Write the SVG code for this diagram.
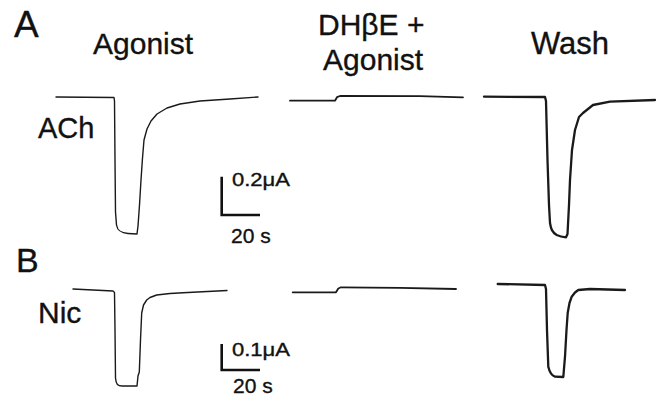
<svg xmlns="http://www.w3.org/2000/svg" width="663" height="399" viewBox="0 0 663 399">
<style>
text{font-family:"Liberation Sans",Arial,sans-serif;fill:#111;stroke:#111;stroke-width:0.35}
.tr{fill:none;stroke:#1a1a1a;stroke-linejoin:round;stroke-linecap:round}
.thin{stroke-width:1.4}
.mid{stroke-width:1.8}
.thick{stroke-width:2.3}
.bar{fill:none;stroke:#111;stroke-width:2.6}
</style>
<rect width="663" height="399" fill="#fff"/>
<g id="headers">
<text x="14" y="37.3" font-size="37">A</text>
<text x="93" y="53.5" font-size="30">Agonist</text>
<text x="318" y="35" font-size="30">DHβE +</text>
<text x="323" y="70" font-size="30">Agonist</text>
<text x="531" y="53.5" font-size="31">Wash</text>
</g>
<g id="panel-A">
<text x="38" y="138" font-size="29">ACh</text>
<path class="tr thin" d="M56,97 L114,97.5 L114.5,101 L115,160 L115.5,212 L116.5,225 C117.5,231 121,233 128,233.5 L137,234 L138,226 L139.5,205 L141,180 L142.5,158 L144,140 L147,129 L151,121 L157,114 L167,108 L180,104 L200,101 L230,99 L258,97"/>
<path class="tr mid" d="M290,100.7 L335,100.7 L337,97.2 L340,96 L420,96.2 L463,97.3"/>
<path class="tr thick" d="M484,96.7 L545,97 L546,101 L547.5,160 L549,205 L550,223 C551,229 552,232 556.7,235 C560,236.5 563,237 566,237.3 L567.5,234 L569,205 L570,180 L572,150 L575,130 L579,117 L583,113 L593,105 L610,101.7 L655,100"/>
<path class="bar" d="M221.7,176.7 V215 H260"/>
<text x="232" y="186" font-size="18" textLength="58" lengthAdjust="spacingAndGlyphs">0.2μA</text>
<text x="231" y="242.5" font-size="21">20 s</text>
</g>
<g id="panel-B">
<text x="16" y="271.7" font-size="34">B</text>
<text x="38" y="323" font-size="30">Nic</text>
<path class="tr thin" d="M73,289 L113,291 L114.5,292.5 L115,330 L115.5,378 C116,384.5 118,386 122,386 L137,386 L138,376 L139.3,372 L140.5,340 L141.7,313 L143.5,305 L146.7,300 L150,297.5 L156.7,295 L170,293.5 L183,292.7 L227,290.5"/>
<path class="tr mid" d="M292.7,292.3 L336,292.3 L338.3,288.5 L341,287.3 L400,287.8 L456,289"/>
<path class="tr thick" d="M497.7,284 L545,285 L546,289 L547,330 L548.3,366.7 C549.5,372 552,375.5 555,376.7 L563.3,377 L565,356.7 L566.5,330 L567.7,313 L569.5,303 L571.7,296.7 L575,292.5 L578.3,290 L590,289 L625,290"/>
<path class="bar" d="M221.7,344 V370 H260"/>
<text x="232" y="355.5" font-size="18" textLength="58" lengthAdjust="spacingAndGlyphs">0.1μA</text>
<text x="233" y="393" font-size="21">20 s</text>
</g>
</svg>
